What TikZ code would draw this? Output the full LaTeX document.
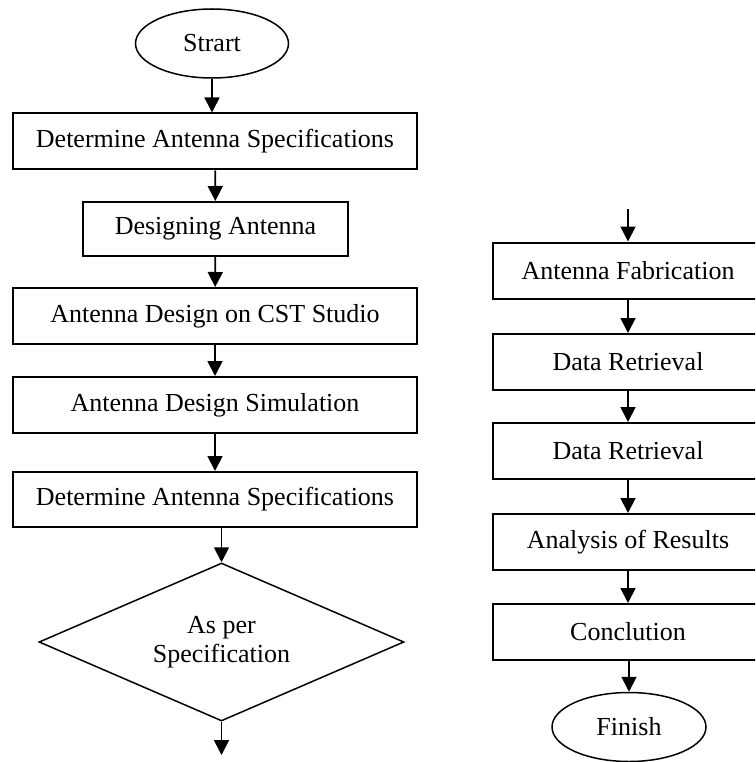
\documentclass[tikz,border=0pt]{standalone}
\usepackage{fontspec}
\setmainfont{Liberation Serif}
\usepackage{tikz}
\usetikzlibrary{arrows.meta,shapes.geometric}
\tikzset{
    mybox/.style={draw=black,line width=2pt,rectangle,minimum height=56pt,inner sep=0pt,align=center},
    myoval/.style={draw=black,line width=1.5pt,ellipse,minimum width=153pt,minimum height=69pt,inner sep=0pt},
    mydiamond/.style={draw=black,line width=1.5pt,diamond,aspect=2.3,minimum width=365pt,minimum height=158pt,inner sep=0pt,align=center},
    myarrow/.style={-{Triangle[length=15pt,width=15pt]},line width=1.8pt,draw=black},
    every node/.style={font=\fontsize{26}{29}\selectfont}
}
\begin{document}
\begin{tikzpicture}[x=1pt,y=-1pt]
  \useasboundingbox (0,0) rectangle (755,762);
  \clip (0,0) rectangle (755,762);
  % left column
  \node[myoval] (start) at (212,43.5) {Strart};
  \node[mybox,minimum width=404pt] (spec) at (215,141.5) {Determine Antenna Specifications};
  \node[mybox,minimum width=265pt,minimum height=54pt] (design) at (215.5,229) {Designing Antenna};
  \node[mybox,minimum width=404pt] (cst) at (215,316) {Antenna Design on CST Studio};
  \node[mybox,minimum width=404pt] (sim) at (215,405) {Antenna Design Simulation};
  \node[mybox,minimum width=404pt,minimum height=55pt] (specb) at (215,499.5) {Determine Antenna Specifications};
  \node[mydiamond] (check) at (221.5,642) {As per\\Specification};
  \coordinate (leftout) at (221.5,755);
  % right column
  \coordinate (rightin) at (628,209);
  \node[mybox,minimum width=270pt] (fab) at (628,270.5) {Antenna Fabrication};
  \node[mybox,minimum width=270pt] (data) at (628,362) {Data Retrieval};
  \node[mybox,minimum width=270pt] (datab) at (628,451) {Data Retrieval};
  \node[mybox,minimum width=270pt] (res) at (628,542) {Analysis of Results};
  \node[mybox,minimum width=270pt] (concl) at (628,632) {Conclution};
  \node[myoval,minimum width=154pt] (finish) at (629,727) {Finish};
  % connectors
  \draw[myarrow] (start.south) -- (start.south |- spec.north);
  \draw[myarrow] (spec) -- (design);
  \draw[myarrow] (design) -- (cst);
  \draw[myarrow] (cst) -- (sim);
  \draw[myarrow] (sim) -- (specb);
  \draw[myarrow] (check.north |- specb.south) -- (check.north);
  \draw[myarrow] (check.south) -- (leftout);
  \draw[myarrow] (rightin) -- (fab.north);
  \draw[myarrow] (fab) -- (data);
  \draw[myarrow] (data) -- (datab);
  \draw[myarrow] (datab) -- (res);
  \draw[myarrow] (res) -- (concl);
  \draw[myarrow] (finish.north |- concl.south) -- (finish.north);
\end{tikzpicture}
\end{document}
